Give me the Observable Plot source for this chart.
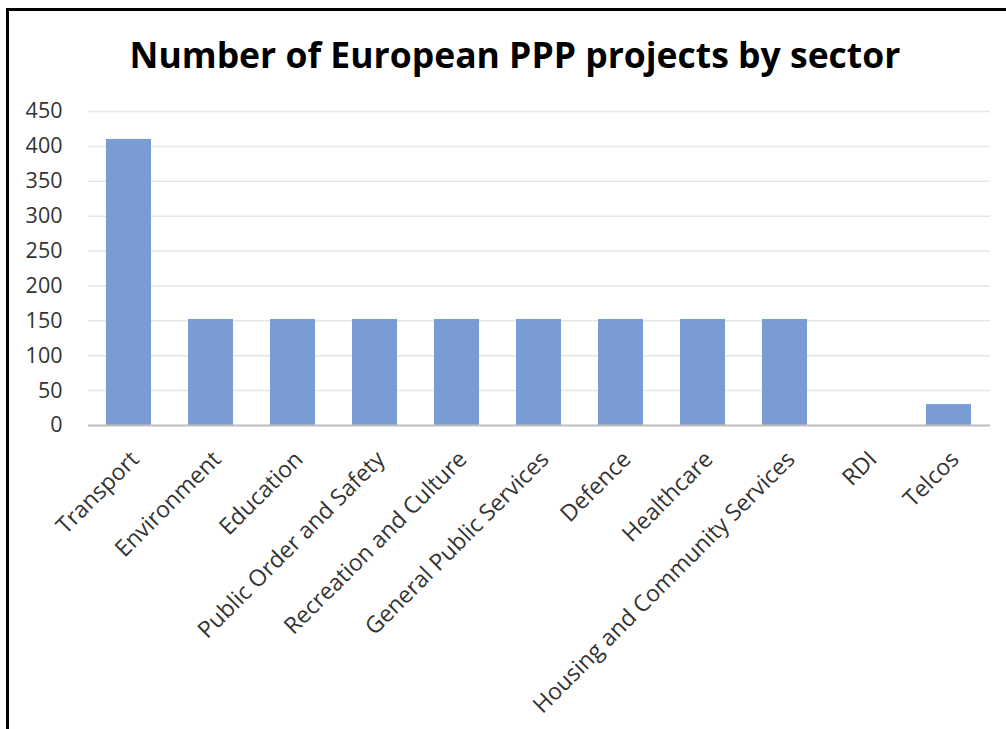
<!DOCTYPE html>
<html>
<head>
<meta charset="utf-8">
<script src="https://cdn.jsdelivr.net/npm/d3@7"></script>
<script src="https://cdn.jsdelivr.net/npm/@observablehq/plot@0.6"></script>
<style>
  html, body { margin: 0; padding: 0; background: #fff; width: 1006px; height: 729px; overflow: hidden; }
  #frame { position: absolute; left: 6px; top: 8px; width: 1000px; height: 721px;
           border-left: 3px solid #000; border-top: 3px solid #000; box-sizing: border-box; }
  #title { position: absolute; left: 12px; top: 0; width: 1006px; text-align: center;
           font-family: "Open Sans", sans-serif; font-weight: 700; font-size: 35.5px; color: #000;
           line-height: 1; padding-top: 37px; }
  #chart { position: absolute; left: 0; top: 80px; }
</style>
</head>
<body>
<div id="frame"></div>
<div id="title">Number of European PPP projects by sector</div>
<div id="chart"></div>
<script>
const sectors = ["Transport", "Environment", "Education", "Public Order and Safety", "Recreation and Culture",
  "General Public Services", "Defence", "Healthcare", "Housing and Community Services", "RDI", "Telcos"];
const projects = [410, 152, 152, 152, 152, 152, 152, 152, 152, 0, 30];
const yTicks = [0, 50, 100, 150, 200, 250, 300, 350, 400, 450];

const data = sectors.map((s, i) => ({sector: s, value: projects[i]}));

const chart = Plot.plot({
  width: 1006,
  height: 649,
  marginLeft: 88,
  marginRight: 16,
  marginTop: 31,
  marginBottom: 304,
  style: { fontFamily: "Open Sans, sans-serif", fontSize: "18px", color: "#333", background: "transparent" },
  x: { domain: sectors, paddingInner: 0.45, paddingOuter: 0.225, label: null },
  y: { domain: [0, 450], ticks: yTicks, label: null },
  marks: [
    Plot.gridY(yTicks, { stroke: "#e6e6e6", strokeOpacity: 1, strokeWidth: 1.5 }),
    Plot.barY(data, { x: "sector", y: "value", fill: "#7a9cd5" }),
    Plot.ruleY([0], { stroke: "#bfbfbf", strokeWidth: 2 }),
    Plot.axisY(yTicks, { tickSize: 0, tickPadding: 26, fontSize: 21.5, label: null }),
    Plot.axisX({ tickSize: 0, tickRotate: -45, tickPadding: 30, dx: 6, fontSize: 23, label: null })
  ]
});
document.getElementById("chart").appendChild(chart);
</script>
</body>
</html>
